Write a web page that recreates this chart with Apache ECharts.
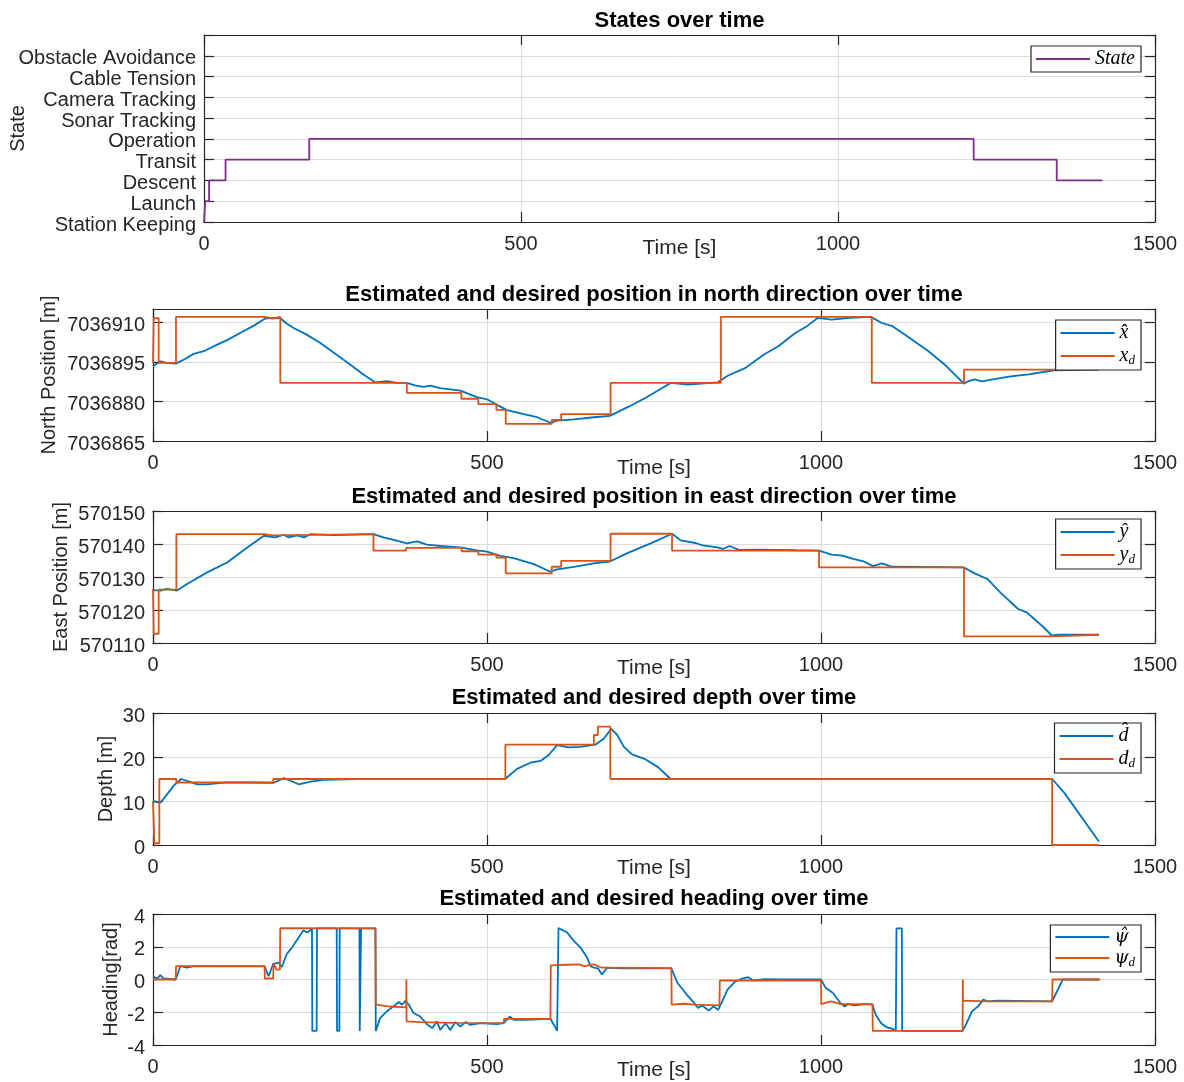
<!DOCTYPE html>
<html>
<head>
<meta charset="utf-8">
<script src="https://cdn.jsdelivr.net/npm/echarts@6/dist/echarts.min.js"></script>
<style>
  html, body { margin: 0; padding: 0; background: #ffffff; }
  #chart { width: 1184px; height: 1082px; }
</style>
</head>
<body>
<div id="chart"></div>
<script>
// ---- Mission state timeline ----
const stateNames = ['Station Keeping', 'Launch', 'Descent', 'Transit', 'Operation',
  'Sonar Tracking', 'Camera Tracking', 'Cable Tension', 'Obstacle Avoidance'];
const stateTime  = [0, 2, 8, 34, 166, 1214, 1345, 1417];
const stateLevel = [0, 1, 2, 3, 4, 3, 2, 2];

// ---- North position [m] ----
const northRefTime  = [0, 1, 8.5, 34.4, 167, 179, 190.6, 380, 461.6, 487, 514, 528, 597, 611, 685, 850, 1076, 1214, 1416];
const northRefValue = [7036894.6, 7036911.5, 7036894.6, 7036912, 7036911.4, 7036912, 7036887, 7036883.2, 7036881,
  7036879, 7036876.8, 7036871.5, 7036873, 7036875.2, 7036887, 7036912, 7036887, 7036892, 7036892];
const northEstTime  = [0, 11, 21, 34, 46, 61, 76, 96, 111, 131, 151, 168, 180, 190, 200, 210, 230, 250, 275, 295,
  315, 333, 350, 365, 380, 392, 405, 415, 430, 460, 485, 500, 515, 530, 555, 575, 595, 605, 630, 660, 684, 712,
  737, 775, 801, 845, 861, 887, 914, 936, 962, 979, 995, 1016, 1043, 1075, 1091, 1107, 1129, 1161, 1188, 1214,
  1220, 1230, 1241, 1257, 1284, 1311, 1349, 1415];
const northEstValue = [7036893.3, 7036895.2, 7036894.6, 7036894.3, 7036895.8, 7036898, 7036899, 7036901.5, 7036903.2,
  7036906, 7036908.7, 7036911.4, 7036911.6, 7036911.6, 7036909.5, 7036907.9, 7036905.3, 7036902.2, 7036897.7,
  7036894, 7036890.2, 7036887.2, 7036887.7, 7036887, 7036887, 7036886.1, 7036885.5, 7036886, 7036885, 7036884.1,
  7036881.6, 7036880.8, 7036878.7, 7036876.7, 7036875.2, 7036874, 7036871.9, 7036872.7, 7036873.2, 7036874,
  7036874.5, 7036878, 7036881.3, 7036887, 7036886.4, 7036887.2, 7036889.8, 7036892.7, 7036897.7, 7036900.9,
  7036906, 7036908.5, 7036911.6, 7036911, 7036911.6, 7036912, 7036909.7, 7036908.5, 7036904.7, 7036899,
  7036893.3, 7036886.7, 7036887.6, 7036888.3, 7036887.6, 7036888.3, 7036889.5, 7036890.2, 7036891.8, 7036892];

// ---- East position [m] ----
const eastRefTime  = [0, 1, 8.5, 35, 167, 179, 330, 379, 462, 487, 514, 528, 597, 611, 685, 777, 997, 1214, 1346, 1416];
const eastRefValue = [570126.4, 570112.8, 570126.2, 570143, 570142.6, 570143, 570138, 570138.8, 570137.8, 570136.8,
  570135.9, 570131.1, 570133.1, 570134.9, 570143.1, 570138, 570132.9, 570112, 570112.5, 570112.5];
const eastEstTime  = [0, 11, 21, 36, 51, 81, 111, 136, 166, 183, 196, 203, 216, 226, 236, 270, 330, 345, 365, 380,
  395, 410, 430, 460, 485, 500, 520, 540, 570, 595, 605, 630, 660, 684, 711, 745, 777, 790, 812, 823, 845, 853,
  863, 877, 909, 962, 997, 1016, 1032, 1048, 1064, 1078, 1091, 1107, 1214, 1230, 1249, 1268, 1295, 1308, 1332,
  1346, 1354, 1416];
const eastEstValue = [570126, 570125.9, 570126.4, 570125.9, 570127.9, 570131.4, 570134.4, 570138.2, 570142.5, 570142,
  570142.8, 570142, 570142.6, 570142, 570143, 570142.7, 570143, 570142, 570141, 570140.2, 570140.8, 570139.8,
  570139.4, 570139, 570138.1, 570137.7, 570136.4, 570135.7, 570133.9, 570131.6, 570132.3, 570133.1, 570134.1,
  570134.7, 570137.3, 570140.2, 570143.1, 570141.1, 570140.3, 570139.6, 570139, 570138.5, 570139.4, 570138.2,
  570138.3, 570138.1, 570138, 570136.8, 570136.5, 570135.5, 570134.7, 570133.3, 570134.1, 570133.1, 570132.9,
  570131.1, 570129.4, 570125.4, 570120.3, 570119.3, 570115, 570112.2, 570112.5, 570112.5];

// ---- Depth [m] ----
const depthRefTime  = [0, 2, 9.5, 35, 180, 527.5, 660, 666, 684.6, 1346, 1416];
const depthRefValue = [10, 0.4, 15, 14.2, 15, 22.8, 25, 26.9, 15, 0, 0];
const depthEstTime  = [0, 11, 21, 31, 42, 51, 66, 81, 106, 146, 180, 196, 206, 218, 236, 256, 305, 527, 545, 565,
  580, 592, 605, 622, 640, 662, 675, 686, 695, 705, 717, 737, 756, 775, 1346, 1364, 1416];
const depthEstValue = [10, 9.6, 11.5, 13.5, 15, 14.6, 13.8, 13.8, 14.2, 14.2, 14.1, 15.2, 14.6, 13.8, 14.4, 14.8, 15,
  15, 17.3, 18.7, 19.1, 20.4, 22.7, 22.2, 22.3, 22.8, 24.2, 26.4, 25, 22.3, 20.6, 19.5, 17.7, 15, 15, 11.9, 0.8];

// ---- Heading [rad] ----
const headingRefTime  = [0, 34, 34.5, 167, 167.5, 180, 180.5, 185, 190, 190.5, 333, 333.5, 355, 379, 379.3, 379.6,
  400, 450, 525, 525.5, 595, 595.5, 620, 638, 646, 660, 672, 776, 776.5, 794, 810, 848, 848.5, 1000, 1000.5,
  1015, 1030, 1077, 1077.5, 1212, 1212.3, 1212.6, 1250, 1346, 1346.5, 1418];
const headingRefValue = [0, 0, 0.82, 0.82, 0.06, 0.06, 1.0, 0.6, 0.6, 3.14, 3.12, -1.54, -1.65, -1.7, 0, -2.56,
  -2.6, -2.65, -2.67, -2.4, -2.4, 0.86, 0.9, 0.92, 0.82, 0.92, 0.72, 0.7, -1.54, -1.48, -1.54, -1.58, -0.06,
  -0.06, -1.5, -1.33, -1.5, -1.5, -3.14, -3.14, 0, -1.29, -1.33, -1.33, 0, 0];
const headingEstTime  = [0, 6, 11, 16, 34, 41, 51, 61, 100, 167, 173, 180, 188, 193, 200, 208, 218, 225, 231, 238,
  238.5, 245, 245.5, 275, 275.5, 279, 279.5, 309, 309.5, 311, 311.5, 333, 333.5, 335, 340, 350, 360, 368, 373,
  378, 383, 390, 400, 410, 418, 425, 430, 438, 445, 453, 460, 468, 475, 490, 515, 525, 534, 540, 555, 595, 605,
  607, 620, 630, 640, 650, 655, 660, 666, 672, 680, 700, 776, 785, 799, 808, 816, 822, 827, 832, 839, 846, 852,
  860, 871, 882, 891, 899, 916, 943, 1000, 1007, 1018, 1029, 1035, 1041, 1049, 1066, 1077, 1082, 1090, 1099,
  1107, 1112, 1113, 1121, 1121.5, 1138, 1212, 1218, 1226, 1235, 1243, 1249, 1265, 1346, 1362, 1416];
const headingEstValue = [0.2, 0.06, 0.27, 0.06, 0, 0.82, 0.72, 0.82, 0.8, 0.8, 0.2, 0.96, 1.03, 0.76, 1.54, 1.95,
  2.56, 3.0, 2.87, 3.08, -3.14, -3.14, 3.12, 3.12, -3.14, -3.14, 3.12, 3.12, -3.14, -3.14, 3.12, 3.12, -3.14,
  -3.14, -2.36, -1.95, -1.64, -1.37, -1.54, -1.29, -1.54, -2.05, -2.26, -2.73, -2.97, -2.56, -3.08, -2.67, -3.08,
  -2.6, -2.87, -2.6, -2.77, -2.67, -2.73, -2.67, -2.26, -2.46, -2.46, -2.4, -3.14, 3.14, 2.87, 2.36, 1.95, 1.33,
  0.82, 0.72, 0.68, 0.31, 0.72, 0.68, 0.68, -0.2, -0.92, -1.33, -1.74, -1.58, -1.74, -1.9, -1.64, -1.85, -1.33,
  -0.62, -0.14, 0.06, 0.14, -0.06, 0.02, 0, 0, -0.51, -0.82, -1.44, -1.64, -1.5, -1.58, -1.5, -1.54, -2.15,
  -2.67, -2.93, -3.02, -3.12, 3.12, 3.12, -3.14, -3.14, -3.14, -2.67, -1.95, -1.64, -1.23, -1.33, -1.29, -1.33,
  0, 0];

// ---- axis tick values ----
const timeTicks = { min: 0, max: 1500, step: 500 };
const stateTicks = { min: 0, max: 9, step: 1 };
const northTicks = { min: 7036865, max: 7036915, step: 15 };
const eastTicks = { min: 570110, max: 570150, step: 10 };
const depthTicks = { min: 0, max: 30, step: 10 };
const headingTicks = { min: -4, max: 4, step: 2 };

// ---- styling ----
const BLUE = '#0072BD', ORANGE = '#D95319', PURPLE = '#7E2F8E';
const AXIS = '#262626', GRIDLINE = '#dcdcdc';
const SANS = '"Liberation Sans", Arial, sans-serif';
const SERIF = '"Liberation Serif", "DejaVu Serif", serif';

const pairs = (ts, vs) => ts.map((t, i) => [t, vs[i]]);

const panels = [
  { title: 'States over time', grid: { left: 204, top: 35, width: 951, height: 187 },
    titleTop: 10, yName: 'State', yGap: 176, xGap: 16, ticks: stateTicks,
    categories: stateNames.concat(['']), legendTop: 46 },
  { title: 'Estimated and desired position in north direction over time', grid: { left: 153, top: 309, width: 1002, height: 132 },
    titleTop: 284, yName: 'North Position [m]', yGap: 94, xGap: 17, ticks: northTicks,
    hideMax: true, legendTop: 320 },
  { title: 'Estimated and desired position in east direction over time', grid: { left: 153, top: 511, width: 1002, height: 132 },
    titleTop: 486, yName: 'East Position [m]', yGap: 82, xGap: 15, ticks: eastTicks,
    hideMax: false, legendTop: 519 },
  { title: 'Estimated and desired depth over time', grid: { left: 153, top: 713, width: 1002, height: 132 },
    titleTop: 687, yName: 'Depth [m]', yGap: 37, xGap: 13, ticks: depthTicks,
    hideMax: false, legendTop: 723 },
  { title: 'Estimated and desired heading over time', grid: { left: 153, top: 914, width: 1002, height: 131 },
    titleTop: 888, yName: 'Heading[rad]', yGap: 32, xGap: 15, ticks: headingTicks,
    hideMax: false, legendTop: 925 }
];
const N = panels.length;

const grids = [], titles = [], xAxes = [], yAxes = [];

panels.forEach((p) => {
  grids.push(Object.assign({ containLabel: false, outerBoundsMode: 'none' }, p.grid));
  titles.push({
    text: p.title, left: p.grid.left + p.grid.width / 2, top: p.titleTop, textAlign: 'center', padding: 0,
    textStyle: { fontFamily: SANS, fontWeight: 'bold', fontSize: 22, color: '#000' }
  });
});

const lineCommon = { show: true, onZero: false, lineStyle: { color: AXIS, width: 1.2 } };
const tickCommon = { show: true, inside: true, length: 10, lineStyle: { color: AXIS, width: 1.2 } };
const gridLineStyle = { color: GRIDLINE, width: 1 };
// y tick labels sit slightly below their tick
const yLabelRich = { t: { fontFamily: SANS, fontSize: 20, color: AXIS, lineHeight: 20, padding: [6, 0, 0, 0] } };

// bottom x axes (0..4), then mirrored top x axes (5..9)
panels.forEach((p, i) => {
  xAxes.push({
    type: 'value', gridIndex: i, position: 'bottom',
    min: timeTicks.min, max: timeTicks.max, interval: timeTicks.step,
    name: 'Time [s]', nameLocation: 'middle', nameGap: p.xGap, nameMoveOverlap: false,
    nameTextStyle: { fontFamily: SANS, fontSize: 21, color: AXIS },
    axisLine: lineCommon, axisTick: tickCommon,
    axisLabel: { fontFamily: SANS, fontSize: 20, color: AXIS, margin: 12, formatter: v => String(v) },
    splitLine: { show: true, lineStyle: gridLineStyle }
  });
});
panels.forEach((p, i) => {
  xAxes.push({
    type: 'value', gridIndex: i, position: 'top',
    min: timeTicks.min, max: timeTicks.max, interval: timeTicks.step,
    axisLine: lineCommon, axisTick: tickCommon,
    axisLabel: { show: false }, splitLine: { show: false }
  });
});
// left y axes (0..4), then mirrored right value axes (5..9)
panels.forEach((p, i) => {
  const common = {
    gridIndex: i, position: 'left',
    name: p.yName, nameLocation: 'middle', nameGap: p.yGap, nameMoveOverlap: false,
    nameTextStyle: { fontFamily: SANS, fontSize: 20, color: AXIS },
    axisLine: lineCommon
  };
  if (p.categories) {
    // state names: one label per level, every label shown
    yAxes.push(Object.assign(common, {
      type: 'category', data: p.categories, boundaryGap: false,
      axisTick: Object.assign({ interval: 0 }, tickCommon),
      axisLabel: { margin: 8, interval: 0, formatter: v => '{t|' + v + '}', rich: yLabelRich },
      splitLine: { show: true, interval: 0, lineStyle: gridLineStyle }
    }));
  } else {
    yAxes.push(Object.assign(common, {
      type: 'value', min: p.ticks.min, max: p.ticks.max, interval: p.ticks.step,
      axisTick: tickCommon,
      axisLabel: { margin: 8, showMaxLabel: !p.hideMax, showMinLabel: true,
        formatter: v => '{t|' + v + '}', rich: yLabelRich },
      splitLine: { show: true, lineStyle: gridLineStyle }
    }));
  }
});
panels.forEach((p, i) => {
  yAxes.push({
    type: 'value', gridIndex: i, position: 'right',
    min: p.ticks.min, max: p.ticks.max, interval: p.ticks.step,
    axisLine: lineCommon, axisTick: tickCommon,
    axisLabel: { show: false }, splitLine: { show: false }
  });
});

function lineSeries(name, panel, data, color, step, yIndex) {
  return {
    name: name, type: 'line', xAxisIndex: panel, yAxisIndex: yIndex != null ? yIndex : panel,
    data: data, step: step || false, symbol: 'none', showSymbol: false,
    lineStyle: { color: color, width: 1.8 }, itemStyle: { color: color },
    emphasis: { disabled: true }, silent: true, clip: true
  };
}

const series = [
  // state levels are plotted against the numeric right-hand axis of the first panel
  lineSeries('State', 0, pairs(stateTime, stateLevel), PURPLE, 'end', N + 0),
  lineSeries('xhat', 1, pairs(northEstTime, northEstValue), BLUE),
  lineSeries('xd', 1, pairs(northRefTime, northRefValue), ORANGE, 'end'),
  lineSeries('yhat', 2, pairs(eastEstTime, eastEstValue), BLUE),
  lineSeries('yd', 2, pairs(eastRefTime, eastRefValue), ORANGE, 'end'),
  lineSeries('dhat', 3, pairs(depthEstTime, depthEstValue), BLUE),
  lineSeries('dd', 3, pairs(depthRefTime, depthRefValue), ORANGE, 'end'),
  lineSeries('psihat', 4, pairs(headingEstTime, headingEstValue), BLUE),
  lineSeries('psid', 4, pairs(headingRefTime, headingRefValue), ORANGE)
];

// math-style legend labels
const legendLabel = {
  State: '{v|State}',
  xhat: '{v|x\u0302}', xd: '{v|x}{s|d}',
  yhat: '{v|\u0177}', yd: '{v|y}{s|d}',
  dhat: '{v|d\u0302}', dd: '{v|d}{s|d}',
  psihat: '{g|\u03C8\u0302}', psid: '{g|\u03C8}{s|d}'
};
const legendGroups = [['State'], ['xhat', 'xd'], ['yhat', 'yd'], ['dhat', 'dd'], ['psihat', 'psid']];

const legends = legendGroups.map((names, i) => ({
  data: names, orient: 'vertical', right: 43, top: panels[i].legendTop,
  icon: 'rect', itemWidth: 54, itemHeight: 1.8, itemGap: 3, itemTextGap: 5,
  padding: [3, 6, 3, 5], borderColor: AXIS, borderWidth: 1.2, backgroundColor: '#ffffff',
  selectedMode: false,
  formatter: name => legendLabel[name],
  textStyle: {
    rich: {
      v: { fontFamily: SERIF, fontStyle: 'italic', fontSize: 20, color: '#000', lineHeight: 22, verticalAlign: 'middle' },
      g: { fontFamily: '"DejaVu Serif", serif', fontStyle: 'italic', fontSize: 18, color: '#000', lineHeight: 22, verticalAlign: 'middle' },
      s: { fontFamily: SERIF, fontStyle: 'italic', fontSize: 13, color: '#000', lineHeight: 12, verticalAlign: 'bottom' }
    }
  }
}));

const chart = echarts.init(document.getElementById('chart'), null, { renderer: 'canvas' });
chart.setOption({
  animation: false,
  backgroundColor: '#ffffff',
  title: titles,
  grid: grids,
  xAxis: xAxes,
  yAxis: yAxes,
  legend: legends,
  series: series
});
</script>
</body>
</html>
